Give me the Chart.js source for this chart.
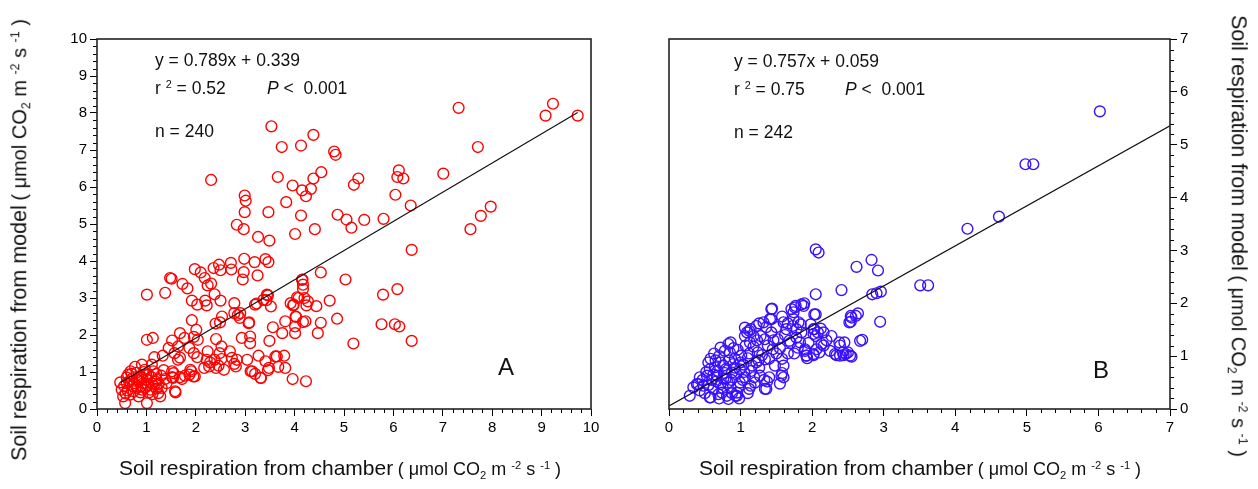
<!DOCTYPE html>
<html>
<head>
<meta charset="utf-8">
<script src="https://cdn.jsdelivr.net/npm/chart.js@4.4.1/dist/chart.umd.min.js"></script>
<style>
  body { margin: 0; background: #fff; width: 1258px; height: 489px; position: relative; overflow: hidden;
         font-family: "Liberation Sans", Arial, Helvetica, sans-serif; color: #111; }
  canvas { position: absolute; top: 0; }
  .t { position: absolute; white-space: nowrap; line-height: 1; }
  .eq { font-size: 17.5px; }
  .sup { font-size: 0.62em; vertical-align: 0.55em; line-height: 0; }
  .sub { font-size: 0.62em; vertical-align: -0.35em; line-height: 0; }
  .big { font-size: 21px; }
  .unit { font-size: 18px; }
  .ybig { font-size: 21.5px; }
  .yunit { font-size: 20px; }
  .tag { font-size: 24px; }
</style>
</head>
<body>
<canvas id="chartA" width="629" height="489" style="left:0"></canvas>
<canvas id="chartB" width="629" height="489" style="left:629px"></canvas>

<div class="t eq" style="left:155px;top:52px">y = 0.789x + 0.339</div>
<div class="t eq" style="left:155px;top:80px">r <span class="sup">2</span> = 0.52</div>
<div class="t eq" style="left:267px;top:80px"><i>P</i> &lt;&nbsp; 0.001</div>
<div class="t eq" style="left:155px;top:123px">n = 240</div>
<div class="t tag" style="left:498px;top:355px">A</div>

<div class="t eq" style="left:734px;top:53px">y = 0.757x + 0.059</div>
<div class="t eq" style="left:734px;top:81px">r <span class="sup">2</span> = 0.75</div>
<div class="t eq" style="left:845px;top:81px"><i>P</i> &lt;&nbsp; 0.001</div>
<div class="t eq" style="left:734px;top:124px">n = 242</div>
<div class="t tag" style="left:1093px;top:358px">B</div>

<div class="t" style="left:340px;top:457px;transform:translateX(-50%)"><span class="big">Soil respiration from chamber</span> <span class="unit">( &mu;mol CO<span class="sub">2</span> m <span class="sup">-2</span> s <span class="sup">-1</span> )</span></div>
<div class="t" style="left:920px;top:457px;transform:translateX(-50%)"><span class="big">Soil respiration from chamber</span> <span class="unit">( &mu;mol CO<span class="sub">2</span> m <span class="sup">-2</span> s <span class="sup">-1</span> )</span></div>
<div class="t" style="left:20px;top:240px;transform:translate(-50%,-50%) rotate(-90deg)"><span class="ybig">Soil respiration from model</span> <span class="yunit">( &mu;mol CO<span class="sub">2</span> m <span class="sup">-2</span> s <span class="sup">-1</span> )</span></div>
<div class="t" style="left:1238px;top:236px;transform:translate(-50%,-50%) rotate(90deg)"><span class="ybig">Soil respiration from model</span> <span class="yunit">( &mu;mol CO<span class="sub">2</span> m <span class="sup">-2</span> s <span class="sup">-1</span> )</span></div>

<script>
// panel A: chamber (x) vs model (y)
const pointsA = [
  [7.32,8.14],[9.23,8.25],[9.08,7.93],[9.73,7.93],[3.53,7.64],[4.38,7.41],[3.74,7.08],[4.13,7.12],[4.80,6.96],[4.83,6.87],
  [7.71,7.08],[2.31,6.19],[3.66,6.27],[4.54,6.40],[4.38,6.23],[3.96,6.04],[4.15,5.91],[4.33,5.95],[4.23,5.75],[6.11,6.45],
  [6.08,6.27],[6.20,6.23],[7.01,6.36],[5.29,6.23],[5.20,6.06],[6.04,5.79],[6.35,5.50],[2.99,5.77],[3.01,5.63],[3.83,5.59],
  [2.99,5.32],[3.47,5.32],[4.13,5.23],[4.87,5.25],[5.05,5.12],[5.41,5.11],[5.80,5.14],[5.15,4.90],[4.41,4.86],[4.01,4.73],
  [2.83,4.98],[2.97,4.86],[3.26,4.65],[3.49,4.55],[7.97,5.47],[7.77,5.22],[7.56,4.86],[6.37,4.30],
  [2.98,4.06],[3.19,3.97],[3.41,4.05],[3.47,3.97],[3.25,3.61],[4.53,3.69],[5.03,3.50],[5.79,3.09],[6.08,3.24],[4.16,3.50],
  [4.17,3.36],[4.17,3.24],[4.05,3.02],[3.92,2.86],[3.97,2.80],[4.20,3.00],[4.27,2.91],[4.24,2.80],[4.44,2.78],[4.71,2.93],
  [3.46,3.07],[3.43,2.94],[3.52,2.77],[3.23,2.85],[4.86,2.44],[4.53,2.33],[4.17,2.35],[4.03,2.49],[4.01,2.23],[4.47,2.05],
  [3.81,2.37],[3.56,2.21],[3.75,2.05],[4.01,2.05],[5.76,2.29],[6.03,2.29],[6.12,2.23],[6.37,1.84],[5.19,1.77],[3.49,1.84],
  [2.36,3.81],[2.47,3.90],[2.50,3.75],[2.71,3.95],[2.72,3.77],[1.98,3.78],[2.10,3.69],[2.18,3.54],[2.24,3.34],[2.31,3.39],
  [1.48,3.54],[1.51,3.52],[1.73,3.38],[1.83,3.26],[1.01,3.09],[1.38,3.14],[1.92,2.93],[2.03,2.82],[2.19,2.93],[2.22,2.80],
  [2.38,3.10],[2.50,2.93],[2.97,3.70],[2.95,3.50],[2.78,2.86],[2.78,2.59],[2.85,2.54],[2.89,2.46],[3.08,2.34],[2.53,2.50],
  [2.40,2.31],[2.49,2.34],[1.92,2.40],[1.68,2.05],[1.77,1.92],[2.01,2.14],[1.96,1.95],[2.04,1.87],[1.01,1.87],[1.13,1.92],
  [1.52,1.85],[1.45,1.65],[1.64,1.69],[1.57,1.51],[1.68,1.39],[1.64,1.33],[1.87,1.65],[1.96,1.51],[2.03,1.40],[1.16,1.40],
  [1.33,1.44],[2.41,1.89],[2.52,1.69],[2.24,1.56],[2.22,1.33],[2.29,1.26],[2.38,1.33],[2.48,1.51],[2.52,1.35],[2.69,1.56],
  [2.73,1.38],[2.83,1.33],[2.17,1.11],[2.27,1.15],[2.41,1.11],[2.46,1.17],[2.57,1.06],[2.78,1.22],[2.81,1.15],[3.04,1.33],
  [3.27,1.44],[3.11,1.02],[3.20,0.95],[3.32,0.84],[3.41,1.29],[3.48,1.11],[3.46,1.05],[3.64,1.42],[3.79,1.44],[3.67,1.14],
  [3.81,1.11],[3.96,0.81],[4.23,0.75],[1.91,1.02],[1.87,0.93],[1.98,0.88],[1.52,1.02],[1.54,0.84],[1.68,0.86],[1.78,0.90],
  [1.59,0.45],[3.61,1.42],[3.14,1.02],[3.31,0.84],[2.90,2.59],[3.07,2.32],[2.93,1.92],[3.10,1.96],[3.10,1.78],[3.20,2.82],
  [3.44,3.09],[3.37,2.95],[4.08,3.00],[4.22,2.37],[4.02,2.50],[3.98,2.82],[4.15,3.49],
  [0.57,0.16],[0.50,0.52],[0.60,0.70],[0.70,0.81],[0.77,1.14],[0.87,0.88],[0.97,1.06],[1.04,0.93],[1.14,1.02],[1.21,0.79],
  [0.94,0.70],[0.81,0.57],[0.67,0.39],[0.84,0.34],[1.01,0.16],[1.08,0.52],[1.24,0.43],[1.31,0.57],[1.38,0.81],[1.55,0.97],
  [1.58,0.48],[1.72,0.81],[1.89,1.06],[1.95,0.88],[0.47,0.72],[0.63,0.93],[0.91,1.20],[1.11,1.20],[0.81,0.79],[1.01,0.79],
  [1.11,0.70],[0.91,0.52],[0.74,0.48],[1.28,0.34],[0.53,0.34],[1.41,0.70],[1.52,0.86],[0.90,0.62],[1.00,0.92],[1.10,0.86],
  [0.72,0.62],[1.20,0.55],[0.95,1.00],[1.05,0.45],[0.80,0.98],[1.20,0.95],[0.62,0.50],[0.85,0.75],[1.15,0.62],[0.98,0.58],
  [0.70,0.95],[1.25,0.68],[0.60,0.85],[0.55,0.62],[0.65,0.75],[0.75,0.70],[0.88,0.45],[0.92,0.85],[1.03,0.65],[1.12,0.40],
  [1.18,0.75],[1.30,0.90],[0.68,1.02],[0.58,0.42],[1.35,1.05]
];

// panel B
const pointsB = [
  [6.02,5.63],[4.98,4.63],[5.09,4.63],[4.61,3.64],[4.17,3.41],[3.51,2.34],[3.62,2.34],[2.05,3.02],[2.09,2.96],[2.83,2.82],
  [2.62,2.69],[2.92,2.62],[2.41,2.25],[2.05,2.17],[2.84,2.17],[2.90,2.19],[2.96,2.22],[2.95,1.65],[2.54,1.65],[2.54,1.76],
  [2.64,1.81],[2.61,1.76],[2.70,1.31],[2.34,1.02],[2.44,1.02],[2.55,0.99],[2.50,1.07],[2.38,1.26],[2.45,1.26],[2.05,1.79],
  [1.89,2.00],[1.77,1.95],[1.71,1.89],[1.44,1.90],[1.43,1.70],[1.26,1.62],[1.60,1.64],[1.12,1.48],[1.06,1.38],[2.08,1.45],
  [2.02,1.51],[2.05,1.38],[2.16,1.20],[2.10,1.07],[2.02,1.04],[1.90,1.13],[1.93,0.96],[1.60,0.60],[1.58,0.68],[1.37,0.52],
  [1.36,0.38],[1.20,0.50],[1.14,0.44],[0.29,0.25],[0.41,0.47],[0.58,0.22],[0.93,0.25],[0.81,0.25],[0.86,1.26],[0.72,1.16],
  [2.32,1.04],[2.39,1.20],[2.43,1.07],[2.47,1.04],[2.53,1.01],[2.39,1.01],[2.03,1.51],[2.02,1.42],[2.16,1.45],[2.27,1.38],
  [2.13,1.23],[2.06,1.13],[1.90,1.10],[1.92,1.01],[2.02,1.02],[1.83,1.26],[1.78,1.51],[1.74,1.70],[1.88,1.95],[1.76,1.92],
  [1.81,1.64],[2.03,1.79],[2.52,1.64],[2.55,1.73],[2.67,1.29],
  [0.39,0.47],[0.43,0.60],[0.55,0.88],[0.57,0.22],[0.67,0.63],[0.76,0.82],[0.83,1.23],[0.85,1.07],[0.95,0.25],[0.99,0.50],
  [1.09,1.45],[1.13,1.26],[1.22,0.88],[1.34,0.38],[1.41,1.70],[1.43,1.89],[1.57,0.63],[1.60,0.82],[1.64,1.51],[1.74,1.83],
  [1.85,1.98],[1.92,1.01],[0.48,0.44],[0.62,0.38],[0.69,0.28],[0.72,0.47],[0.79,0.57],[0.86,0.41],[0.88,0.69],[0.90,0.85],
  [0.99,0.75],[1.01,1.01],[1.06,0.60],[1.12,0.38],[1.15,0.72],[1.24,1.07],[1.27,0.63],[1.34,0.94],[1.34,1.32],[1.43,1.45],
  [1.45,1.13],[1.48,0.82],[1.22,1.57],[1.32,1.64],[1.52,1.32],[1.68,1.29],[1.73,1.57],[1.80,1.16],[1.85,1.45],[1.06,1.54],
  [0.57,0.75],[0.53,0.63],[0.64,0.79],[0.74,0.31],[0.83,0.19],[0.95,0.31],[0.43,0.35],[0.34,0.41],[1.14,1.51],[0.66,0.52],
  [0.78,0.68],[0.92,0.95],[1.04,0.84],[1.18,1.18],[0.70,1.00],[0.60,0.55],[0.96,1.12],[1.10,0.96],[1.28,1.38],[1.50,1.05],
  [0.52,0.70],[0.58,0.95],[0.63,1.05],[0.68,0.72],[0.72,0.88],[0.75,0.40],[0.78,1.10],[0.82,0.50],[0.84,0.92],[0.88,0.30],
  [0.90,1.15],[0.94,0.66],[0.97,0.42],[1.00,0.88],[1.03,0.55],[1.07,1.20],[1.10,0.30],[1.16,0.82],[1.19,0.60],[1.23,1.30],
  [1.26,0.78],[1.30,1.02],[1.33,0.55],[1.38,1.20],[1.40,0.95],[1.46,1.30],[1.50,1.55],[1.55,1.15],[1.58,0.95],[1.62,1.40],
  [1.66,1.05],[1.70,1.25],[1.75,1.05],[1.78,1.35],[1.84,1.60],[1.95,1.25],[1.98,1.60],[2.12,1.52],[2.20,1.30],[2.25,1.10],
  [0.47,0.55],[0.50,0.30],[0.55,0.45],[0.62,0.65],[0.65,0.92],[0.70,0.20],[0.76,0.58],[0.80,0.76],[0.87,0.55],[0.92,0.78],
  [0.98,0.20],[1.05,0.70],[1.12,1.05],[1.18,1.38],[1.25,0.92],[1.40,0.60],[1.55,0.48],[1.36,1.55],[1.58,1.75],[1.66,1.62]
];

// regression fits: [slope, intercept] and x-range of drawn line
const fitA = [0.789, 0.339];
const fitRangeA = [0.48, 9.73];
const fitB = [0.757, 0.059];
const fitRangeB = [0, 7];

const ticksA = [0, 10];
const ticksB = [0, 7];

const FONT = '"Liberation Sans", Arial, Helvetica, sans-serif';

// minor ticks (0.2 steps, outside) and the plot frame
const framePlugin = {
  id: 'frame',
  afterDraw(chart) {
    const ctx = chart.ctx, a = chart.chartArea;
    ctx.save();
    ctx.strokeStyle = '#000';
    ctx.lineWidth = 1;
    ['x', 'y'].forEach(function(id) {
      const s = chart.scales[id];
      for (let i = 0; i <= Math.round((s.max - s.min) / 0.2); i++) {
        if (i % 5 === 0) continue;
        const v = s.min + i * 0.2;
        const p = Math.round(s.getPixelForValue(v)) + 0.5;
        ctx.beginPath();
        if (id === 'x') { ctx.moveTo(p, a.bottom); ctx.lineTo(p, a.bottom + 4); }
        else if (s.position === 'left') { ctx.moveTo(a.left - 4, p); ctx.lineTo(a.left, p); }
        else { ctx.moveTo(a.right, p); ctx.lineTo(a.right + 4, p); }
        ctx.stroke();
      }
    });
    ctx.strokeStyle = '#222';
    ctx.lineWidth = 1.6;
    ctx.strokeRect(a.left, a.top, a.right - a.left, a.bottom - a.top);
    ctx.restore();
  }
};

function toXY(arr) {
  return arr.map(function(p) { return { x: p[0], y: p[1] }; });
}

function fitLine(fit, range) {
  return range.map(function(x) { return { x: x, y: fit[0] * x + fit[1] }; });
}

function makeChart(id, points, fit, range, lim, color, yPos, pad, yWidth) {
  const axisCommon = {
    type: 'linear',
    min: lim[0],
    max: lim[1],
    border: { display: false },
    grid: { display: true, drawOnChartArea: false, drawTicks: true, tickLength: 7, color: '#000', lineWidth: 1 },
    ticks: { stepSize: 1, color: '#000', font: { family: FONT, size: 15 }, padding: 3, maxRotation: 0, autoSkip: false }
  };
  return new Chart(document.getElementById(id), {
    type: 'scatter',
    data: {
      datasets: [
        {
          type: 'line',
          data: fitLine(fit, range),
          borderColor: '#111',
          borderWidth: 1.2,
          pointRadius: 0,
          fill: false
        },
        {
          data: toXY(points),
          pointStyle: 'circle',
          pointRadius: 5.4,
          pointBorderWidth: 1.4,
          pointBorderColor: color,
          pointBackgroundColor: 'rgba(0,0,0,0)',
          clip: false
        }
      ]
    },
    options: {
      responsive: false,
      animation: false,
      events: [],
      layout: { padding: pad },
      plugins: { legend: { display: false }, tooltip: { enabled: false } },
      scales: {
        x: Object.assign({}, axisCommon, {
          position: 'bottom',
          afterFit: function(s) { s.height = 80; }
        }),
        y: Object.assign({}, axisCommon, {
          position: yPos,
          afterFit: function(s) { s.width = yWidth; }
        })
      }
    },
    plugins: [framePlugin]
  });
}

makeChart('chartA', pointsA, fitA, fitRangeA, ticksA, '#ff0000', 'left',
  { top: 39, right: 38, bottom: 0, left: 0 }, 97);
makeChart('chartB', pointsB, fitB, fitRangeB, ticksB, '#3a10ff', 'right',
  { top: 39, right: 38, bottom: 0, left: 40 }, 50);
</script>
</body>
</html>
